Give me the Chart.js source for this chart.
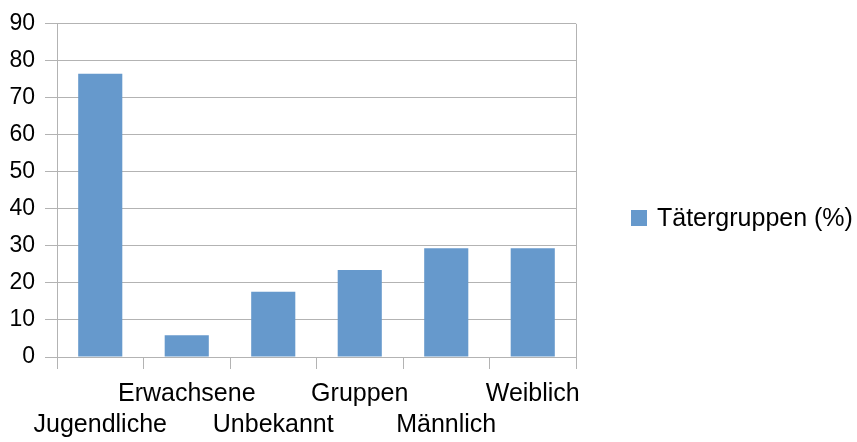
<!DOCTYPE html>
<html>
<head>
<meta charset="utf-8">
<script src="https://cdn.jsdelivr.net/npm/chart.js@4/dist/chart.umd.min.js"></script>
<style>
  html, body { margin: 0; padding: 0; background: #ffffff; }
  #wrap { width: 857px; height: 442px; position: relative; }
</style>
</head>
<body>
<div id="wrap"><canvas id="c" width="857" height="442"></canvas></div>
<script>
const categories = ["Jugendliche", "Erwachsene", "Unbekannt", "Gruppen", "Männlich", "Weiblich"];
const seriesName = "Tätergruppen (%)";
const seriesValues = [76.5, 5.9, 17.6, 23.5, 29.4, 29.4];
const yTicks = [0, 10, 20, 30, 40, 50, 60, 70, 80, 90];

// staggered two-row labels: even positions on second row, odd on first
const xLabels = categories.map((c, i) => i % 2 === 0 ? ["", c] : [c, ""]);

const GRID = "#b3b3b3";
const BAR = "#6699cc";
const FONT = "'Liberation Sans', Arial, sans-serif";

// Legend drawn at the right side (built-in legend is width-limited to a quarter of the canvas)
const sideLegend = {
  id: "sideLegend",
  afterDraw(chart) {
    const ctx = chart.ctx;
    const area = chart.chartArea;
    const ds = chart.data.datasets[0];
    const cy = 218;
    const bx = area.right + 55;
    ctx.save();
    ctx.fillStyle = ds.backgroundColor;
    ctx.fillRect(bx, cy - 8, 16, 16);
    ctx.fillStyle = "#000000";
    ctx.font = "25px " + FONT;
    ctx.textAlign = "left";
    ctx.textBaseline = "middle";
    ctx.fillText(ds.label, bx + 26, cy + 1);
    ctx.restore();
  }
};

new Chart(document.getElementById("c"), {
  type: "bar",
  data: {
    labels: xLabels,
    datasets: [{
      label: seriesName,
      data: seriesValues,
      backgroundColor: BAR,
      borderWidth: 0,
      categoryPercentage: 1.0,
      barPercentage: 0.51
    }]
  },
  plugins: [sideLegend],
  options: {
    responsive: false,
    animation: false,
    devicePixelRatio: 1,
    layout: { padding: { top: 22, left: 0, right: 281, bottom: 0 } },
    plugins: {
      legend: { display: false },
      tooltip: { enabled: false }
    },
    scales: {
      x: {
        grid: {
          offset: true,
          color: (ctx) => (ctx.type !== "tick" || ctx.index === 0) ? GRID : "rgba(0,0,0,0)",
          tickColor: GRID,
          tickLength: 12,
          lineWidth: 1
        },
        border: { color: GRID, width: 1 },
        ticks: {
          color: "#000000",
          font: { family: FONT, size: 25, lineHeight: 1.24 },
          padding: 10,
          maxRotation: 0,
          minRotation: 0,
          autoSkip: false
        },
        afterFit: (scale) => { scale.height = 85; }
      },
      y: {
        min: 0,
        max: 90,
        afterBuildTicks: (scale) => { scale.ticks = yTicks.map(v => ({ value: v })); },
        grid: {
          color: GRID,
          tickColor: GRID,
          tickLength: 12,
          lineWidth: 1
        },
        border: { color: GRID, width: 1 },
        ticks: {
          color: "#000000",
          font: { family: FONT, size: 23 },
          padding: 10
        },
        afterFit: (scale) => { scale.width = 57; }
      }
    }
  }
});
</script>
</body>
</html>
